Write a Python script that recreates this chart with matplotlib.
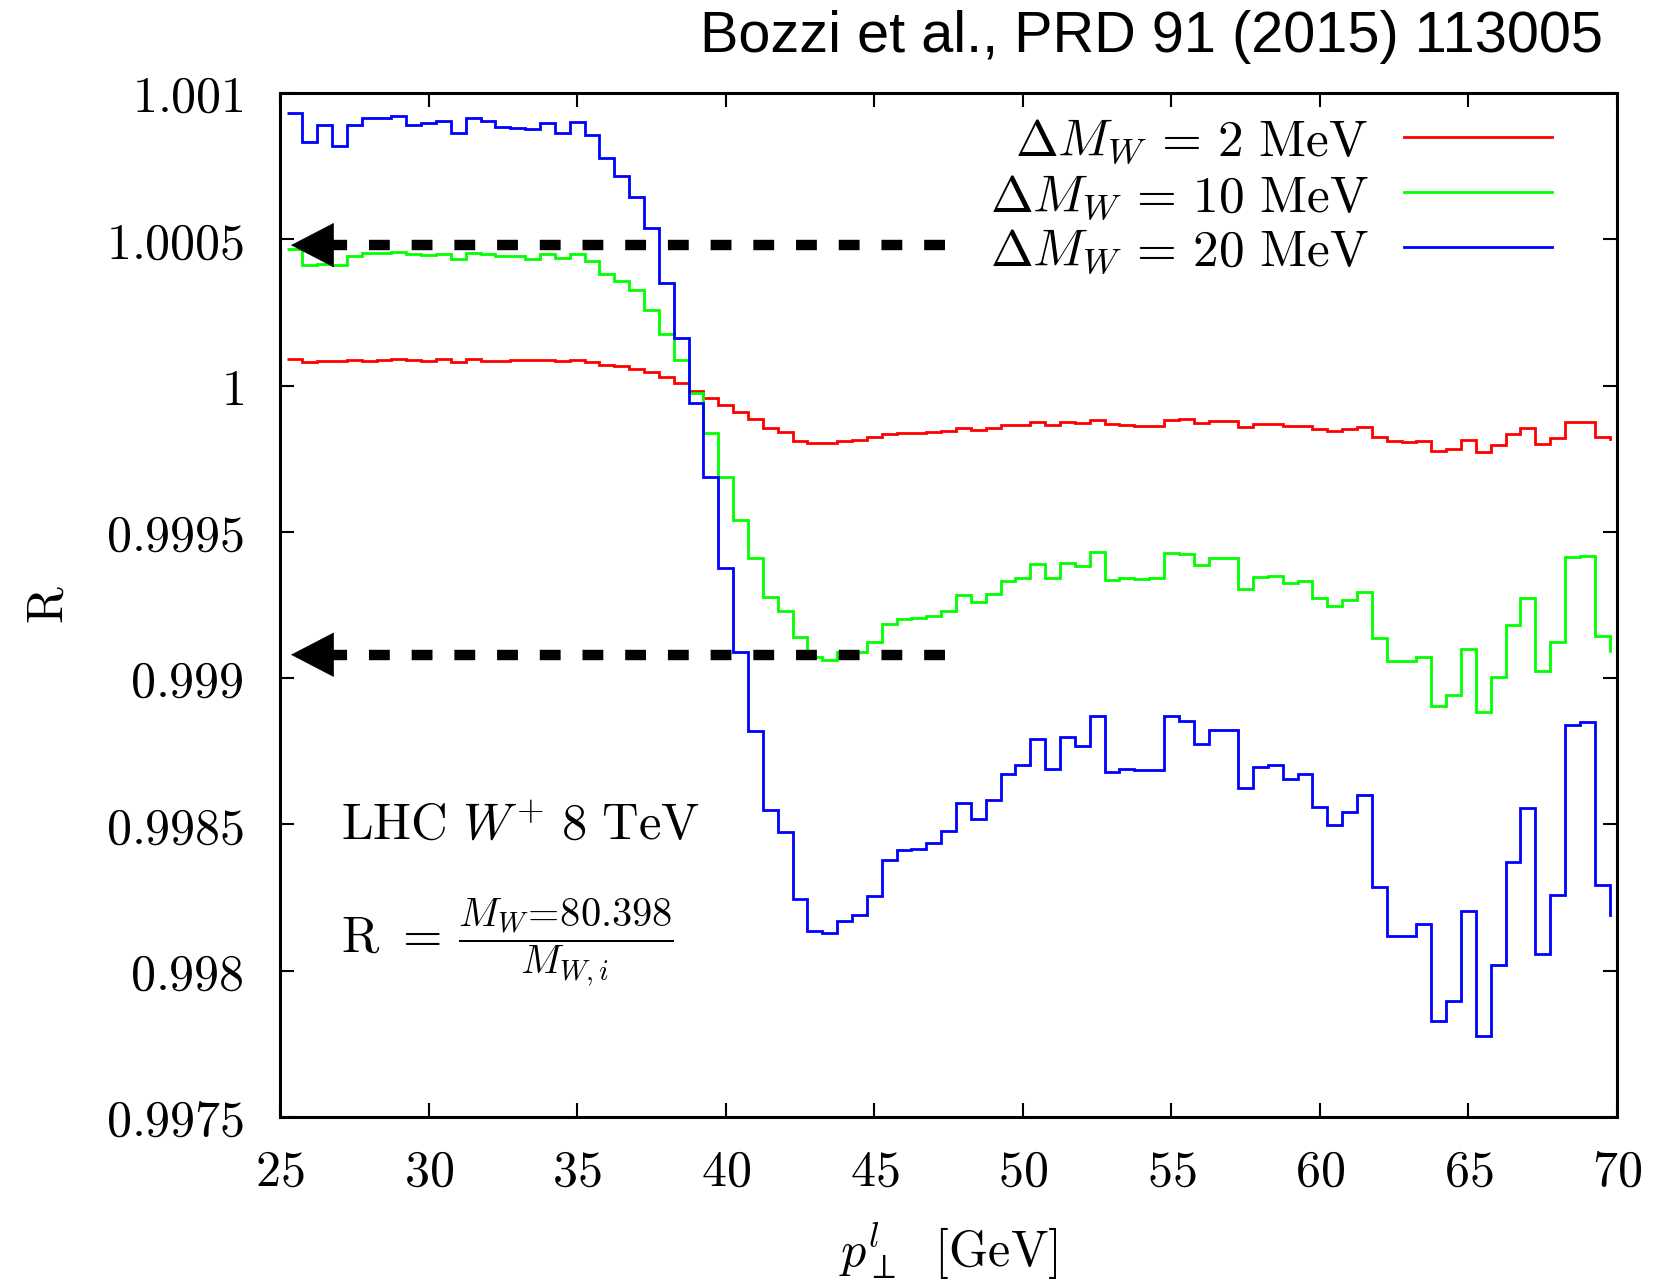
import numpy as np
import matplotlib.pyplot as plt

plt.rcParams['mathtext.fontset'] = 'cm'

# bin centres of the lepton pT histogram [GeV]
pt_centers = np.arange(25.5, 70.0, 0.5)

# deviation of R from 1, in units of 1e-4
dR_2MeV = [0.91, 0.80, 0.84, 0.84, 0.89, 0.84, 0.88, 0.92, 0.88, 0.84,
           0.91, 0.80, 0.92, 0.84, 0.85, 0.88, 0.87, 0.87, 0.84, 0.88,
           0.79, 0.70, 0.66, 0.57, 0.46, 0.28, 0.08, -0.19, -0.41, -0.66,
           -0.90, -1.15, -1.46, -1.60, -1.89, -1.95, -1.95, -1.88, -1.85, -1.77,
           -1.66, -1.61, -1.63, -1.60, -1.55, -1.44, -1.52, -1.44, -1.36, -1.35,
           -1.25, -1.35, -1.25, -1.28, -1.19, -1.33, -1.35, -1.38, -1.38, -1.18,
           -1.13, -1.29, -1.22, -1.22, -1.41, -1.33, -1.33, -1.39, -1.38, -1.49,
           -1.54, -1.49, -1.43, -1.76, -1.90, -1.93, -1.88, -2.24, -2.16, -1.85,
           -2.27, -2.04, -1.66, -1.46, -2.01, -1.80, -1.24, -1.24, -1.77]
dR_10MeV = [4.66, 4.13, 4.15, 4.13, 4.44, 4.53, 4.53, 4.57, 4.50, 4.47,
            4.50, 4.34, 4.53, 4.49, 4.44, 4.44, 4.33, 4.49, 4.35, 4.50,
            4.27, 3.83, 3.58, 3.25, 2.58, 1.75, 0.86, -0.26, -1.62, -3.14,
            -4.61, -5.90, -7.24, -7.69, -8.58, -9.28, -9.39, -9.12, -9.10, -8.75,
            -8.16, -7.97, -7.95, -7.86, -7.69, -7.15, -7.40, -7.14, -6.67, -6.56,
            -6.09, -6.59, -6.06, -6.16, -5.69, -6.64, -6.59, -6.62, -6.59, -5.73,
            -5.74, -6.12, -5.91, -5.91, -6.95, -6.54, -6.51, -6.76, -6.67, -7.26,
            -7.53, -7.33, -7.04, -8.63, -9.41, -9.43, -9.27, -10.95, -10.56, -9.02,
            -11.14, -9.96, -8.17, -7.26, -9.74, -8.75, -5.85, -5.82, -8.55]
dR_20MeV = [9.32, 8.31, 8.92, 8.20, 8.90, 9.16, 9.16, 9.20, 8.90, 8.98,
            9.03, 8.64, 9.16, 9.04, 8.85, 8.82, 8.78, 8.98, 8.62, 9.01,
            8.56, 7.78, 7.15, 6.44, 5.37, 3.52, 1.64, -0.59, -3.11, -6.24,
            -9.12, -11.80, -14.50, -15.26, -17.56, -18.63, -18.72, -18.30, -18.09, -17.46,
            -16.21, -15.89, -15.85, -15.63, -15.22, -14.25, -14.81, -14.18, -13.26, -12.96,
            -12.08, -13.10, -12.02, -12.33, -11.31, -13.21, -13.10, -13.13, -13.13, -11.28,
            -11.47, -12.25, -11.78, -11.78, -13.76, -13.04, -12.96, -13.46, -13.26, -14.40,
            -15.03, -14.59, -14.01, -17.15, -18.80, -18.80, -18.40, -21.73, -21.04, -17.96,
            -22.22, -19.82, -16.29, -14.45, -19.42, -17.42, -11.61, -11.50, -17.07]
# last drop drawn at the right end of each curve
tail_end = [-1.82, -9.07, -18.09]

labels = [r'$\Delta M_W\,=\,2\ \mathrm{MeV}$',
          r'$\Delta M_W\,=\,10\ \mathrm{MeV}$',
          r'$\Delta M_W\,=\,20\ \mathrm{MeV}$']
colors = ['#ff0000', '#00ff00', '#0000ff']

ytick_vals = [0.9975, 0.998, 0.9985, 0.999, 0.9995, 1.0, 1.0005, 1.001]
ytick_labels = ['0.9975', '0.998', '0.9985', '0.999', '0.9995', '1', '1.0005', '1.001']
xtick_vals = [25, 30, 35, 40, 45, 50, 55, 60, 65, 70]

# arrows marking the 10 MeV shift (R values)
arrow_levels = [1.00048, 0.99908]
arrow_x = [47.38, 25.37]

fig = plt.figure(figsize=(16.59, 12.81), dpi=100)
ax = fig.add_axes([0.1688, 0.128, 0.8059, 0.7994])

edges = np.append(pt_centers - 0.25, pt_centers[-1] + 0.25)
series = [dR_2MeV, dR_10MeV, dR_20MeV]
for vals, col, tail in zip(series, colors, tail_end):
    R = 1 + np.array(vals) * 1e-4
    ax.stairs(R, edges, color=col, lw=2.0, baseline=None)
    ax.plot([edges[-1], edges[-1]], [R[-1], 1 + tail * 1e-4], color=col, lw=2.0)

for yl in arrow_levels:
    ax.plot([arrow_x[0], arrow_x[1] + 1.2], [yl, yl], color='k', lw=7.5,
            dashes=(2.0, 2.1), solid_capstyle='butt', dash_capstyle='butt')
    ax.annotate('', xy=(arrow_x[1], yl), xytext=(arrow_x[1] + 1.45, yl),
                arrowprops=dict(arrowstyle='-|>,head_length=1.5,head_width=0.78',
                                color='k', lw=0.5, mutation_scale=20,
                                shrinkA=0, shrinkB=0))

ax.set_xlim(25, 70)
ax.set_ylim(0.9975, 1.001)
ax.set_xticks(xtick_vals)
ax.set_xticklabels(['$%d$' % v for v in xtick_vals])
ax.set_yticks(ytick_vals)
ax.set_yticklabels(['$%s$' % s for s in ytick_labels])
ax.tick_params(direction='in', length=10, width=1.5, top=True, right=True,
               labelsize=36, pad=26)
ax.tick_params(axis='x', pad=22)
for sp in ax.spines.values():
    sp.set_linewidth(2.2)

ax.set_ylabel(r'$\mathrm{R}$', fontsize=36, labelpad=24)
ax.set_xlabel(r'$p_{\perp}^{l}\ \ [\mathrm{GeV}]$', fontsize=36, labelpad=18)

# legend drawn by hand: text right aligned, sample line on the right
row_y = [0.957, 0.903, 0.850]
for lab, col, yy in zip(labels, colors, row_y):
    ax.text(0.814, yy - 0.018, lab, transform=ax.transAxes, ha='right',
            va='baseline', fontsize=37)
    ax.plot([0.841, 0.951], [yy, yy], transform=ax.transAxes, color=col, lw=2.0)

ax.text(0.0456, 0.2715, r'$\mathrm{LHC}\ W^{+}\ 8\ \mathrm{TeV}$', transform=ax.transAxes,
        fontsize=36.5, va='baseline')
ax.text(0.0456, 0.161, r'$\mathrm{R}\ =$', transform=ax.transAxes,
        fontsize=36.5, va='baseline')
ax.text(0.133, 0.170, r'$\dfrac{M_W\!=\!80.398}{M_{W,i}}$', transform=ax.transAxes,
        fontsize=29, va='center')

fig.text(0.966, 0.971, 'Bozzi et al., PRD 91 (2015) 113005', ha='right', va='center',
         fontsize=41.5, family='Liberation Sans')

fig.savefig('out.png', dpi=100)
